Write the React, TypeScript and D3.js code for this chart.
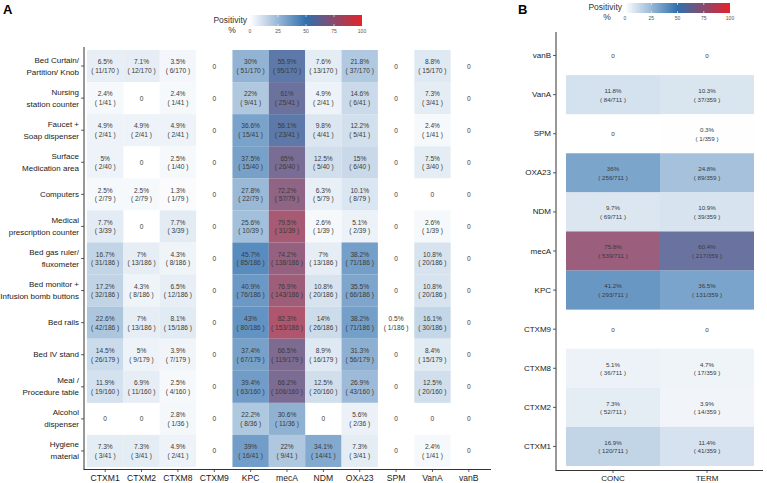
import React from "react";
import * as d3 from "d3";

// ---------- Panel A data ----------
const genesA = ["CTXM1", "CTXM2", "CTXM8", "CTXM9", "KPC", "mecA", "NDM", "OXA23", "SPM", "VanA", "vanB"];
const sitesA = [
  "Bed Curtain/\nPartition/ Knob",
  "Nursing\nstation counter",
  "Faucet +\nSoap dispenser",
  "Surface\nMedication area",
  "Computers",
  "Medical\nprescription counter",
  "Bed gas ruler/\nfluxometer",
  "Bed monitor +\nInfusion bomb buttons",
  "Bed rails",
  "Bed IV stand",
  "Meal /\nProcedure table",
  "Alcohol\ndispenser",
  "Hygiene\nmaterial",
];
const totalsA = [170, 41, 41, 40, 79, 39, 186, 186, 186, 179, 160, 36, 41];

const posCTXM1 = [11, 1, 2, 2, 2, 3, 31, 32, 42, 26, 19, 0, 3];
const pctCTXM1 = [6.5, 2.4, 4.9, 5, 2.5, 7.7, 16.7, 17.2, 22.6, 14.5, 11.9, 0, 7.3];
const posCTXM2 = [12, 0, 2, 0, 2, 0, 13, 8, 13, 9, 11, 0, 3];
const pctCTXM2 = [7.1, 0, 4.9, 0, 2.5, 0, 7, 4.3, 7, 5, 6.9, 0, 7.3];
const posCTXM8 = [6, 1, 2, 1, 1, 3, 8, 12, 15, 7, 4, 1, 2];
const pctCTXM8 = [3.5, 2.4, 4.9, 2.5, 1.3, 7.7, 4.3, 6.5, 8.1, 3.9, 2.5, 2.8, 4.9];
const posCTXM9 = [0, 0, 0, 0, 0, 0, 0, 0, 0, 0, 0, 0, 0];
const pctCTXM9 = [0, 0, 0, 0, 0, 0, 0, 0, 0, 0, 0, 0, 0];
const posKPC = [51, 9, 15, 15, 22, 10, 85, 76, 80, 67, 63, 8, 16];
const pctKPC = [30, 22, 36.6, 37.5, 27.8, 25.6, 45.7, 40.9, 43, 37.4, 39.4, 22.2, 39];
const posMecA = [95, 25, 23, 26, 57, 31, 138, 143, 153, 119, 106, 11, 9];
const pctMecA = [55.9, 61, 56.1, 65, 72.2, 79.5, 74.2, 76.9, 82.3, 66.5, 66.2, 30.6, 22];
const posNDM = [13, 2, 4, 5, 5, 1, 13, 20, 26, 16, 20, 0, 14];
const pctNDM = [7.6, 4.9, 9.8, 12.5, 6.3, 2.6, 7, 10.8, 14, 8.9, 12.5, 0, 34.1];
const posOXA23 = [37, 6, 5, 6, 8, 2, 71, 66, 71, 56, 43, 2, 3];
const pctOXA23 = [21.8, 14.6, 12.2, 15, 10.1, 5.1, 38.2, 35.5, 38.2, 31.3, 26.9, 5.6, 7.3];
const posSPM = [0, 0, 0, 0, 0, 0, 0, 0, 1, 0, 0, 0, 0];
const pctSPM = [0, 0, 0, 0, 0, 0, 0, 0, 0.5, 0, 0, 0, 0];
const posVanA = [15, 3, 1, 3, 0, 1, 20, 20, 30, 15, 20, 0, 1];
const pctVanA = [8.8, 7.3, 2.4, 7.5, 0, 2.6, 10.8, 10.8, 16.1, 8.4, 12.5, 0, 2.4];
const posVanB = [0, 0, 0, 0, 0, 0, 0, 0, 0, 0, 0, 0, 0];
const pctVanB = [0, 0, 0, 0, 0, 0, 0, 0, 0, 0, 0, 0, 0];

const posA = [posCTXM1, posCTXM2, posCTXM8, posCTXM9, posKPC, posMecA, posNDM, posOXA23, posSPM, posVanA, posVanB];
const pctA = [pctCTXM1, pctCTXM2, pctCTXM8, pctCTXM9, pctKPC, pctMecA, pctNDM, pctOXA23, pctSPM, pctVanA, pctVanB];

// ---------- Panel B data ----------
const genesB = ["vanB", "VanA", "SPM", "OXA23", "NDM", "mecA", "KPC", "CTXM9", "CTXM8", "CTXM2", "CTXM1"];
const groupsB = ["CONC", "TERM"];
const totalsB = [711, 359];
const posCONC = [0, 84, 0, 256, 69, 539, 293, 0, 36, 52, 120];
const pctCONC = [0, 11.8, 0, 36, 9.7, 75.8, 41.2, 0, 5.1, 7.3, 16.9];
const posTERM = [0, 37, 1, 89, 39, 217, 131, 0, 17, 14, 41];
const pctTERM = [0, 10.3, 0.3, 24.8, 10.9, 60.4, 36.5, 0, 4.7, 3.9, 11.4];
const posB = [posCONC, posTERM];
const pctB = [pctCONC, pctTERM];

const legendTicks = [0, 25, 50, 75, 100];

const FONT = "'Liberation Sans', Arial, Helvetica, sans-serif";
const color = d3
  .scaleLinear<string>()
  .domain([0, 50, 100])
  .range(["#ffffff", "#3070ae", "#e4232a"])
  .interpolate(d3.interpolateRgb);
const CELL_OPACITY = 0.88;
const TEXT_COL = "#3a3a3a";

function Legend({ id, x0, x1, y0, h, labelRight, labelY }: any) {
  const sc = d3.scaleLinear().domain([0, 100]).range([x0, x1]);
  const stops = d3.range(0, 101, 5);
  return (
    <g>
      <defs>
        <linearGradient id={id} x1="0" x2="1" y1="0" y2="0">
          {stops.map((s) => (
            <stop key={s} offset={`${s}%`} stopColor={color(s)} />
          ))}
        </linearGradient>
      </defs>
      <text x={labelRight} y={labelY} fontSize={8.5} fill="#333" textAnchor="end" fontFamily={FONT}>
        Positivity
      </text>
      <text x={labelRight - 15} y={labelY + 9.5} fontSize={8.5} fill="#333" textAnchor="middle" fontFamily={FONT}>
        %
      </text>
      <rect x={x0} y={y0} width={x1 - x0} height={h} fill={`url(#${id})`} />
      {legendTicks.slice(1, 4).map((t) => (
        <g key={t}>
          <line x1={sc(t)} x2={sc(t)} y1={y0} y2={y0 + 2} stroke="#fff" strokeWidth={0.6} />
          <line x1={sc(t)} x2={sc(t)} y1={y0 + h - 2} y2={y0 + h} stroke="#fff" strokeWidth={0.6} />
        </g>
      ))}
      {legendTicks.map((t) => (
        <text key={t} x={sc(t)} y={y0 + h + 7} fontSize={5} fill="#555" textAnchor="middle" fontFamily={FONT}>
          {t}
        </text>
      ))}
    </g>
  );
}

function CellText({ cx, cy, pct, pos, total, fs }: any) {
  if (pct === 0) {
    return (
      <text x={cx} y={cy} fontSize={fs} fill={TEXT_COL} textAnchor="middle" dominantBaseline="central" fontFamily={FONT}>
        0
      </text>
    );
  }
  return (
    <g>
      <text x={cx} y={cy - 4.2} fontSize={fs} fill={TEXT_COL} textAnchor="middle" dominantBaseline="central" fontFamily={FONT}>
        {`${pct}%`}
      </text>
      <text x={cx} y={cy + 4.4} fontSize={fs} fill={TEXT_COL} textAnchor="middle" dominantBaseline="central" fontFamily={FONT}>
        {`( ${pos}/${total} )`}
      </text>
    </g>
  );
}

export default function App() {
  // Panel A scales
  const xA = d3.scaleBand<string>().domain(genesA).range([87, 487]).padding(0);
  const yA = d3.scaleBand<string>().domain(sitesA).range([50, 467]).padding(0);
  // Panel B scales
  const xB = d3.scaleBand<string>().domain(groupsB).range([566, 754]).padding(0);
  const yB = d3.scaleBand<string>().domain(genesB).range([36, 466]).padding(0);

  const axisCol = "#333";

  return (
    <div style={{ position: "absolute", left: 0, top: 0 }}>
      <svg width={767} height={483} style={{ display: "block", background: "#fff" }}>
        {/* Panel labels */}
        <text x={3} y={14} fontSize={13} fontWeight="bold" fontFamily={FONT} fill="#000">A</text>
        <text x={518} y={14} fontSize={13} fontWeight="bold" fontFamily={FONT} fill="#000">B</text>

        {/* Panel A legend */}
        <Legend id="gradA" x0={250} x1={362} y0={15} h={11} labelRight={247} labelY={23} />
        {/* Panel B legend */}
        <Legend id="gradB" x0={625} x1={730} y0={3} h={10} labelRight={622} labelY={10} />

        {/* Panel A cells */}
        {genesA.map((g, gi) =>
          sitesA.map((s, si) => {
            const pct = pctA[gi][si];
            const x = xA(g)!;
            const y = yA(s)!;
            return (
              <g key={`${g}-${si}`}>
                {pct > 0 && (
                  <rect x={x} y={y} width={xA.bandwidth()} height={yA.bandwidth()} fill={color(pct)} fillOpacity={CELL_OPACITY} />
                )}
                <CellText cx={x + xA.bandwidth() / 2} cy={y + yA.bandwidth() / 2} pct={pct} pos={posA[gi][si]} total={totalsA[si]} fs={6.6} />
              </g>
            );
          })
        )}

        {/* Panel A axes */}
        <line x1={84} x2={84} y1={47} y2={469.5} stroke={axisCol} strokeWidth={1} />
        <line x1={83.5} x2={491} y1={469.5} y2={469.5} stroke={axisCol} strokeWidth={1} />
        {sitesA.map((s) => {
          const cy = yA(s)! + yA.bandwidth() / 2;
          const lines = s.split("\n");
          return (
            <g key={s}>
              <line x1={81} x2={84} y1={cy} y2={cy} stroke={axisCol} strokeWidth={0.8} />
              {lines.map((ln, i) => (
                <text
                  key={i}
                  x={79}
                  y={cy + (i - (lines.length - 1) / 2) * 12}
                  fontSize={8}
                  fill="#1a1a1a"
                  textAnchor="end"
                  dominantBaseline="central"
                  fontFamily={FONT}
                >
                  {ln}
                </text>
              ))}
            </g>
          );
        })}
        {genesA.map((g) => {
          const cx = xA(g)! + xA.bandwidth() / 2;
          return (
            <g key={g}>
              <line x1={cx} x2={cx} y1={469.5} y2={472} stroke={axisCol} strokeWidth={0.8} />
              <text x={cx} y={478} fontSize={8.6} fill="#1a1a1a" textAnchor="middle" dominantBaseline="central" fontFamily={FONT}>
                {g}
              </text>
            </g>
          );
        })}

        {/* Panel B cells */}
        {groupsB.map((grp, gi) =>
          genesB.map((gene, ri) => {
            const pct = pctB[gi][ri];
            const x = xB(grp)!;
            const y = yB(gene)!;
            return (
              <g key={`${grp}-${gene}`}>
                {pct > 0 && (
                  <rect x={x} y={y} width={xB.bandwidth()} height={yB.bandwidth()} fill={color(pct)} fillOpacity={CELL_OPACITY} />
                )}
                <CellText cx={x + xB.bandwidth() / 2} cy={y + yB.bandwidth() / 2} pct={pct} pos={posB[gi][ri]} total={totalsB[gi]} fs={6.2} />
              </g>
            );
          })
        )}

        {/* Panel B axes */}
        <line x1={556} x2={556} y1={32} y2={470.5} stroke={axisCol} strokeWidth={1} />
        <line x1={555.5} x2={763} y1={470.5} y2={470.5} stroke={axisCol} strokeWidth={1} />
        {genesB.map((g) => {
          const cy = yB(g)! + yB.bandwidth() / 2;
          return (
            <g key={g}>
              <line x1={553} x2={556} y1={cy} y2={cy} stroke={axisCol} strokeWidth={0.8} />
              <text x={551} y={cy} fontSize={8} fill="#1a1a1a" textAnchor="end" dominantBaseline="central" fontFamily={FONT}>
                {g}
              </text>
            </g>
          );
        })}
        {groupsB.map((g) => {
          const cx = xB(g)! + xB.bandwidth() / 2;
          return (
            <g key={g}>
              <line x1={cx} x2={cx} y1={470.5} y2={473} stroke={axisCol} strokeWidth={0.8} />
              <text x={cx} y={478} fontSize={8} fill="#1a1a1a" textAnchor="middle" dominantBaseline="central" fontFamily={FONT}>
                {g}
              </text>
            </g>
          );
        })}
      </svg>
    </div>
  );
}
